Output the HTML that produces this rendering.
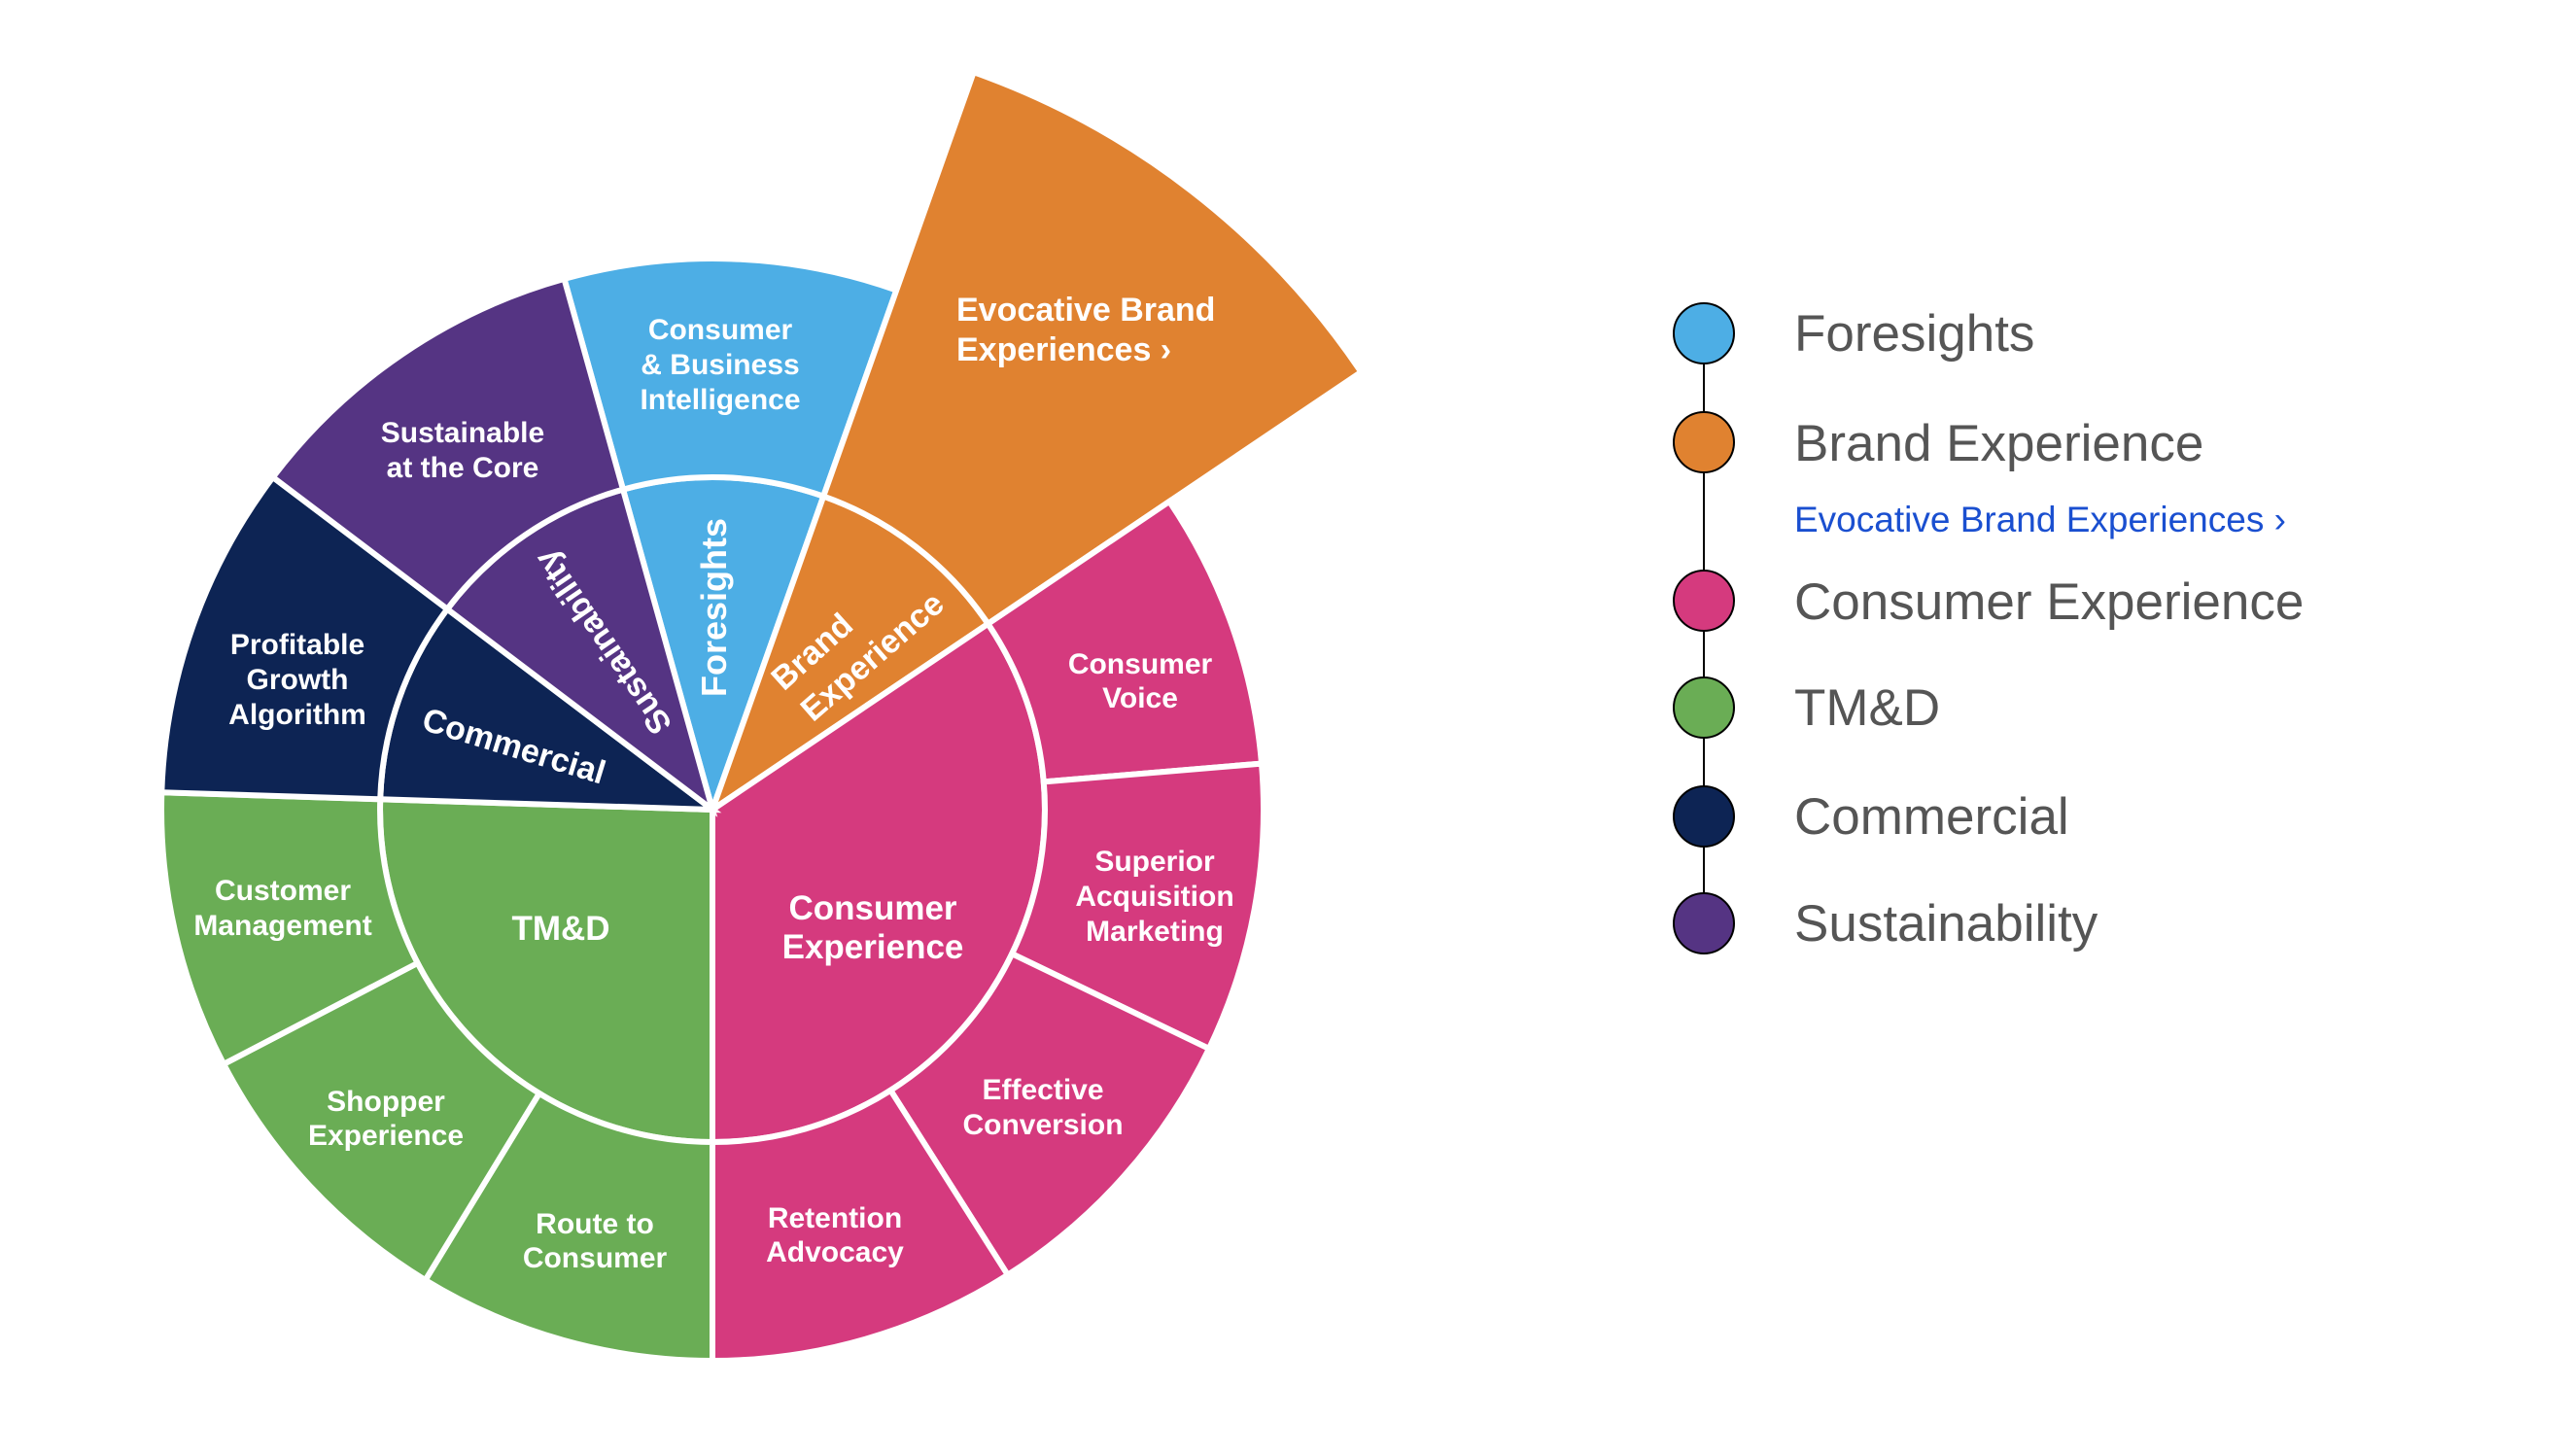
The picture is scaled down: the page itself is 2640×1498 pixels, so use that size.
<!DOCTYPE html>
<html><head><meta charset="utf-8"><style>
html,body{margin:0;padding:0;background:#fff;}
svg{display:block;}
.w{fill:#fff;font-family:"Liberation Sans",sans-serif;font-weight:bold;}
.lg{fill:#555;font-family:"Liberation Sans",sans-serif;font-size:53px;}
</style></head><body>
<svg id="s" width="2640" height="1498" viewBox="0 0 2640 1498" xmlns="http://www.w3.org/2000/svg">
<g id="wedges" stroke="#fff" stroke-width="6" stroke-linejoin="miter"></g>
<g class="w" font-size="30" text-anchor="middle">
<text x="741" y="349">Consumer</text><text x="741" y="385">&amp; Business</text><text x="741" y="421">Intelligence</text>
<text x="476" y="455">Sustainable</text><text x="476" y="491">at the Core</text>
<text x="306" y="673">Profitable</text><text x="306" y="709">Growth</text><text x="306" y="745">Algorithm</text>
<text x="291" y="926">Customer</text><text x="291" y="962">Management</text>
<text x="397" y="1143">Shopper</text><text x="397" y="1178">Experience</text>
<text x="612" y="1269">Route to</text><text x="612" y="1304">Consumer</text>
<text x="859" y="1263">Retention</text><text x="859" y="1298">Advocacy</text>
<text x="1073" y="1131">Effective</text><text x="1073" y="1167">Conversion</text>
<text x="1188" y="896">Superior</text><text x="1188" y="932">Acquisition</text><text x="1188" y="968">Marketing</text>
<text x="1173" y="693">Consumer</text><text x="1173" y="728">Voice</text>
<text x="898" y="946" font-size="35">Consumer</text><text x="898" y="986" font-size="35">Experience</text>
<text x="577" y="967" font-size="35">TM&amp;D</text>
<text transform="translate(529,767) rotate(17)" y="12" font-size="34">Commercial</text>
<text transform="translate(620,661) rotate(235.6)" y="12" font-size="34">Sustainability</text>
<text transform="translate(734,625) rotate(-90)" y="13" font-size="36">Foresights</text>
<text transform="translate(835,670) rotate(-42)" y="12" font-size="34">Brand</text>
<text transform="translate(897,675) rotate(-41)" y="12" font-size="34">Experience</text>
<text x="984" y="330" font-size="34" text-anchor="start">Evocative Brand</text>
<text x="984" y="371" font-size="34" text-anchor="start">Experiences  ›</text>
</g>
<line x1="1753" y1="343" x2="1753" y2="949" stroke="#000" stroke-width="2"/>
<g stroke="#000" stroke-width="2">
<circle cx="1753" cy="343" r="31" fill="#4daee5"/>
<circle cx="1753" cy="455" r="31" fill="#e08230"/>
<circle cx="1753" cy="618" r="31" fill="#d53a7e"/>
<circle cx="1753" cy="728" r="31" fill="#6aad55"/>
<circle cx="1753" cy="840" r="31" fill="#0d2454"/>
<circle cx="1753" cy="950" r="31" fill="#553483"/>
</g>
<text class="lg" x="1846" y="361">Foresights</text>
<text class="lg" x="1846" y="474">Brand Experience</text>
<text x="1846" y="547" fill="#1a4fd0" font-family="Liberation Sans,sans-serif" font-size="37">Evocative Brand Experiences  ›</text>
<text class="lg" x="1846" y="637">Consumer Experience</text>
<text class="lg" x="1846" y="746">TM&amp;D</text>
<text class="lg" x="1846" y="858">Commercial</text>
<text class="lg" x="1846" y="968">Sustainability</text>
</svg>
<script>
var cx=733,cy=833,ri=342,ro=567,rb=805;
function P(r,a){a=a*Math.PI/180;return [(cx+r*Math.sin(a)).toFixed(1),(cy-r*Math.cos(a)).toFixed(1)];}
function sec(r0,r1,a0,a1){var la=(a1-a0)>180?1:0;var p1=P(r1,a0),p2=P(r1,a1);
 if(r0==0)return "M"+cx+","+cy+"L"+p1+"A"+r1+","+r1+" 0 "+la+" 1 "+p2+"Z";
 var p3=P(r0,a1),p4=P(r0,a0);
 return "M"+p4+"L"+p1+"A"+r1+","+r1+" 0 "+la+" 1 "+p2+"L"+p3+"A"+r0+","+r0+" 0 "+la+" 0 "+p4+"Z";}
var C={b:"#4daee5",o:"#e08230",p:"#d53a7e",g:"#6aad55",n:"#0d2454",v:"#553483"};
var W=[
[0,ri,-15.6,19.5,"b"],[0,ri,19.5,56,"o"],[0,ri,56,180,"p"],[0,ri,180,271.8,"g"],[0,ri,271.8,307.1,"n"],[0,ri,307.1,344.4,"v"],
[ri,ro,-15.6,19.5,"b"],[ri,rb,19.5,56,"o"],
[ri,ro,56,85.2,"p"],[ri,ro,85.2,115.7,"p"],[ri,ro,115.7,147.6,"p"],[ri,ro,147.6,180,"p"],
[ri,ro,180,211.4,"g"],[ri,ro,211.4,242.5,"g"],[ri,ro,242.5,271.8,"g"],
[ri,ro,271.8,307.1,"n"],[ri,ro,307.1,344.4,"v"]];
var g=document.getElementById("wedges"),h="";
W.forEach(function(w){h+='<path d="'+sec(w[0],w[1],w[2],w[3])+'" fill="'+C[w[4]]+'"/>';});
g.innerHTML=h;
</script>
</body></html>
